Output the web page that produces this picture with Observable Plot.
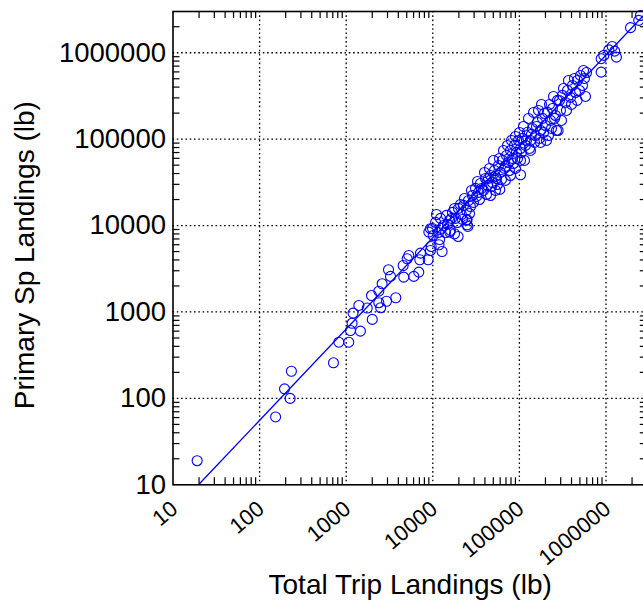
<!DOCTYPE html>
<html>
<head>
<meta charset="utf-8">
<script src="https://cdn.jsdelivr.net/npm/d3@7"></script>
<script src="https://cdn.jsdelivr.net/npm/@observablehq/plot@0.6"></script>
<style>
  html, body { margin: 0; padding: 0; background: white; }
  #chart svg { display: block; }
</style>
</head>
<body>
<div id="chart"></div>
<script>
// Total trip landings (lb) for each trip
const tripLandings = [
  19, 153, 194, 225, 233, 713, 822, 1070, 1120, 1460, 1170, 1200, 1400, 1750, 2000, 2500, 2380, 2920, 3740, 1960,
  2600, 2380, 3080, 3250, 4620, 4550, 6040, 6890, 5060, 5280, 7210, 7080, 8850, 12800, 9400, 9590, 12000, 11800, 10100, 9000,
  9400, 15700, 17800, 19600, 24900, 25400, 24900, 59400, 103000, 280000, 464000, 880000, 880000, 944000, 1080000, 1180000, 1320000, 1260000, 1920000, 2390000,
  2500000,
  9930, 10770, 11650, 12280, 13300, 14390, 15600, 16870, 18280, 19800, 21440, 22600, 24500, 25800, 27200, 14030, 16000, 24500,
  28700, 31100, 33700, 35500, 38500, 40600, 42800, 46400, 48900, 51600, 54400, 57400, 60500, 63800, 67300, 71000, 74800, 78900, 83200, 87700, 92500, 97700, 103000,
  46400, 53000, 69000, 78900, 90200, 103000,
  108600, 117500, 123900, 134300, 141600, 153400, 161800, 175400, 184900, 200000, 210900, 228600, 241000, 261000, 275000, 298000,
  134300, 175400, 216700, 268000,
  314000, 340000, 359000, 389000, 410000, 444000, 469000, 507000, 535000, 564000, 596000,
  11030, 12600, 14780, 16440, 17810, 19280, 20880, 22020, 23230, 26530, 27980, 29500, 31950, 32820, 34610, 36500, 39540, 41690, 43970, 45150,
  47610, 50210, 52970, 55850, 58900, 62120, 65510, 69090, 72860, 76840, 81040, 85470, 90130, 95060, 100300, 105700, 111500, 114500, 120700, 127400,
  130800, 137900, 145500, 149400, 157600, 166200, 170700, 180000, 189800, 194900, 205500, 222700, 234800, 247600, 254300, 290400, 306300, 323000, 349900, 369000,
  399600, 432900, 494300, 549800, 579900
];
// Primary species landings (lb) for the same trips
const primaryLandings = [
  19, 61, 129, 100, 206, 258, 447, 447, 610, 600, 740, 970, 1190, 1110, 820, 1120, 1280, 1330, 1460, 1550,
  2120, 1740, 3080, 2580, 2530, 3450, 2580, 2890, 4130, 4510, 4800, 4020, 4020, 5010, 5150, 5730, 6900, 6000, 7680, 8400,
  9200, 8400, 8040, 7480, 11700, 9770, 10200, 26200, 38700, 126000, 281000, 596000, 853000, 931000, 1080000, 1180000, 890000, 1045000, 1950000, 2370000,
  2700000,
  9250, 10900, 8320, 12100, 10000, 13100, 11500, 14200, 12100, 15800, 13400, 17100, 15000, 19500, 16600, 8320, 8780, 11500,
  22300, 26900, 24200, 30700, 25500, 35100, 29100, 38000, 31500, 43400, 35100, 49600, 41200, 56700, 45800, 64800, 53700, 74000, 59800, 84600, 70200, 96600, 78000,
  22300, 25500, 33300, 38000, 45800, 56700,
  102000, 84600, 120000, 96600, 133000, 110000, 156000, 126000, 174000, 144000, 204000, 165000, 226000, 188000, 281000, 215000,
  74000, 91600, 110000, 126000,
  321000, 266000, 366000, 304000, 418000, 347000, 478000, 546000, 418000, 504000, 591000,
  13440, 9260, 10300, 12090, 15770, 10860, 17550, 11770, 20590, 13800, 25490, 18510, 21720, 32390, 20050, 26880, 41180, 22900, 35090, 45800,
  28350, 56690, 37010, 29900, 59790, 34170, 74000, 48310, 84580, 43420, 96580, 52320, 107500, 59790, 119500, 70150, 140300, 56690, 96580, 173600,
  78050, 113400, 203700, 91600, 140300, 214900, 101900, 252100, 119500, 198300, 96580, 252100, 133000, 312100, 173600, 280500, 164600, 386100, 214900, 478000,
  252100, 504200, 366100, 624000, 312100
];
// Fitted regression line end points
const fitX = [19.7, 3000000];
const fitY = [10, 3000000];

const xTickLabels = [10, 100, 1000, 10000, 100000, 1000000];
const yTickLabels = [10, 100, 1000, 10000, 100000, 1000000];
const gridValues = [100, 1000, 10000, 100000, 1000000];
const xDomain = [10, 3000000];
const yDomain = [10, 3000000];

const points = tripLandings.map((t, i) => ({total: t, primary: primaryLandings[i]}));
const fit = fitX.map((x, i) => ({x, y: fitY[i]}));

const minor = [];
for (let e = 1; e <= 6; e++) for (let m = 2; m <= 9; m++) {
  const v = m * Math.pow(10, e);
  if (v < 3000000) minor.push(v);
}

const W = 643, H = 605;
const mL = 172.5, mR = -3.8, mT = 11, mB = 120.7;
const frameW = W - mL - mR, frameH = H - mT - mB;
const tickLen = 7;
const blue = "#0000ff";

const chart = Plot.plot({
  width: W,
  height: H,
  marginLeft: mL,
  marginRight: mR,
  marginTop: mT,
  marginBottom: mB,
  x: {type: "log", domain: xDomain, axis: null},
  y: {type: "log", domain: yDomain, axis: null},
  style: {fontFamily: "'Liberation Sans', Arial, sans-serif", background: "white", color: "black"},
  marks: [
    Plot.ruleX(gridValues, {x: d => d, stroke: "black", strokeWidth: 1.3, strokeDasharray: "1.6,2.7"}),
    Plot.ruleY(gridValues, {y: d => d, stroke: "black", strokeWidth: 1.3, strokeDasharray: "1.6,2.7"}),
    // inward minor ticks
    Plot.tickX(minor, {x: d => d, insetTop: frameH - tickLen, stroke: "black", strokeWidth: 1.2}),
    Plot.tickX(minor, {x: d => d, insetBottom: frameH - tickLen, stroke: "black", strokeWidth: 1.2}),
    Plot.tickY(minor, {y: d => d, insetRight: frameW - tickLen, stroke: "black", strokeWidth: 1.2}),
    Plot.tickY(minor, {y: d => d, insetLeft: frameW - tickLen, stroke: "black", strokeWidth: 1.2}),
    Plot.dot(points, {x: "total", y: "primary", r: 5, stroke: blue, strokeWidth: 1.1, fill: "none"}),
    Plot.line(fit, {x: "x", y: "y", stroke: blue, strokeWidth: 1.3, clip: true}),
    Plot.frame({stroke: "black", strokeWidth: 1.6}),
    // tick labels
    Plot.text(yTickLabels, {y: d => d, text: d => String(d), frameAnchor: "left", dx: -7, textAnchor: "end", lineAnchor: "middle", fontSize: 27.5, fill: "black"}),
    Plot.text(xTickLabels, {x: d => d, text: d => String(d), frameAnchor: "bottom", dx: 1.5, dy: 21, rotate: -40, textAnchor: "end", lineAnchor: "middle", fontSize: 22, fill: "black"}),
    // axis titles
    Plot.text(["Total Trip Landings (lb)"], {text: d => d, frameAnchor: "bottom", dy: 100, textAnchor: "middle", lineAnchor: "middle", fontSize: 28, fill: "black"}),
    Plot.text(["Primary Sp Landings (lb)"], {text: d => d, frameAnchor: "left", dx: -148, dy: 7, rotate: -90, textAnchor: "middle", lineAnchor: "middle", fontSize: 28, fill: "black"})
  ]
});
document.getElementById("chart").appendChild(chart);
</script>
</body>
</html>
